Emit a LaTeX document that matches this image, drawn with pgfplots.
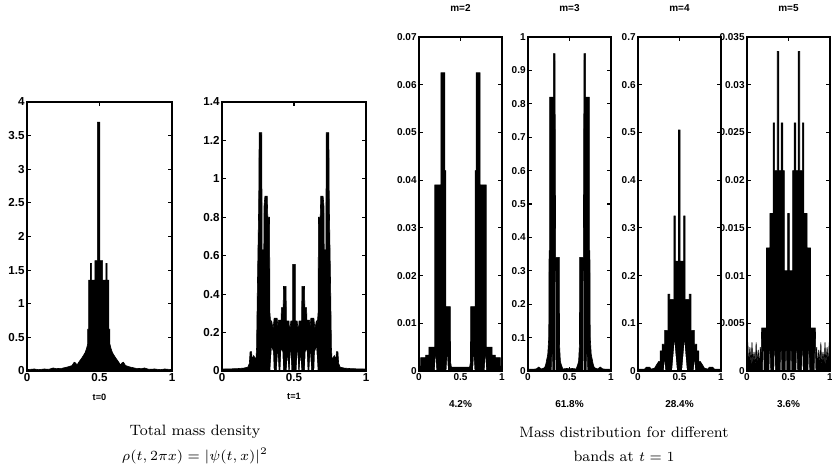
\documentclass[border=0pt]{standalone}
\usepackage{fontspec}
\usepackage{pgfplots}
\pgfplotsset{compat=1.18}
\newfontfamily\lab{Liberation Sans}
\pgfplotsset{
 panel/.style={
  scale only axis, axis on top, anchor=south west,
  scaled ticks=false,
  xmin=0, xmax=1, ymin=0,
  xtick={0,0.5,1}, xticklabels={0,0.5,1},
  tick align=inside, major tick length=2pt,
  axis line style={line width=0.9pt},
  every tick/.append style={line width=0.6pt, black},
  tick label style={font=\lab\bfseries\fontsize{5}{6}\selectfont},
  xticklabel style={inner sep=1pt},
  yticklabel style={inner sep=1pt},
  title style={font=\lab\bfseries\fontsize{5}{6}\selectfont, yshift=3pt},
  xlabel style={font=\lab\bfseries\fontsize{4.6}{5.5}\selectfont, yshift=-1.5pt},
 },
 right/.style={xlabel style={font=\lab\bfseries\fontsize{5}{6}\selectfont, yshift=-3.8pt}},
 env/.style={fill=black, draw=black, line width=0.3pt, mark=none},
 gap/.style={fill=white, draw=none, mark=none},
}
\begin{document}
\begin{tikzpicture}
\useasboundingbox (0,0) rectangle (416pt,237.5pt);
% ---------- t=0
\begin{axis}[panel, at={(13.5pt,52pt)}, width=72.5pt, height=134.5pt,
  ymax=4, ytick={0,0.5,...,4}, yticklabels={0,0.5,1,1.5,2,2.5,3,3.5,4},
  tick label style={font=\lab\bfseries\fontsize{5.8}{6.5}\selectfont},
  xlabel={t=0}]
\addplot[env] coordinates {(0,0)(0,0.02)(0.05,0.03)(0.08,0.02)(0.12,0.03)(0.15,0.025)(0.18,0.045)(0.2,0.035)(0.24,0.04)(0.28,0.06)(0.31,0.08)(0.325,0.13)(0.335,0.12)(0.345,0.09)(0.36,0.14)(0.38,0.2)(0.40,0.27)(0.41,0.33)(0.418,0.4)(0.418,0.62)(0.425,0.62)(0.425,1.35)(0.438,1.35)(0.438,1.6)(0.446,1.6)(0.446,1.35)(0.468,1.35)(0.468,1.64)(0.485,1.64)(0.485,3.7)(0.503,3.7)(0.503,1.64)(0.522,1.64)(0.522,1.35)(0.544,1.35)(0.544,1.6)(0.552,1.6)(0.552,1.35)(0.565,1.35)(0.565,0.62)(0.572,0.62)(0.572,0.4)(0.58,0.33)(0.59,0.27)(0.61,0.2)(0.63,0.14)(0.645,0.09)(0.655,0.12)(0.665,0.13)(0.68,0.08)(0.71,0.06)(0.75,0.04)(0.79,0.035)(0.81,0.045)(0.84,0.025)(0.88,0.03)(0.92,0.02)(0.95,0.03)(1,0.02)(1,0)} \closedcycle;
\end{axis}
% ---------- t=1
\begin{axis}[panel, at={(111pt,52pt)}, width=72pt, height=134.5pt,
  ymax=1.4, ytick={0,0.2,...,1.4}, yticklabels={0,0.2,0.4,0.6,0.8,1,1.2,1.4},
  tick label style={font=\lab\bfseries\fontsize{5.8}{6.5}\selectfont},
  xlabel={t=1}]
\addplot[env] coordinates {(0,0)(0,0.01)(0.1,0.012)(0.15,0.015)(0.18,0.02)(0.19,0.04)(0.195,0.1)(0.205,0.1)(0.21,0.06)(0.22,0.08)(0.228,0.07)(0.235,0.05)(0.24,0.12)(0.245,0.4)(0.25,0.64)(0.255,0.87)(0.258,1.24)(0.276,1.24)(0.279,0.63)(0.29,0.63)(0.292,0.86)(0.298,0.91)(0.314,0.91)(0.318,0.8)(0.33,0.8)(0.333,0.3)(0.338,0.25)(0.345,0.26)(0.355,0.22)(0.362,0.275)(0.383,0.275)(0.388,0.23)(0.392,0.265)(0.41,0.265)(0.413,0.33)(0.425,0.33)(0.427,0.44)(0.445,0.44)(0.447,0.26)(0.465,0.26)(0.47,0.2)(0.478,0.26)(0.49,0.26)(0.491,0.555)(0.509,0.555)(0.51,0.26)(0.522,0.26)(0.53,0.2)(0.535,0.26)(0.553,0.26)(0.555,0.44)(0.573,0.44)(0.575,0.33)(0.587,0.33)(0.59,0.265)(0.608,0.265)(0.612,0.23)(0.617,0.275)(0.638,0.275)(0.645,0.22)(0.655,0.26)(0.662,0.25)(0.667,0.3)(0.67,0.8)(0.682,0.8)(0.686,0.91)(0.702,0.91)(0.708,0.86)(0.71,0.63)(0.721,0.63)(0.724,1.24)(0.742,1.24)(0.745,0.87)(0.75,0.64)(0.755,0.4)(0.76,0.12)(0.765,0.05)(0.772,0.07)(0.78,0.08)(0.79,0.06)(0.795,0.1)(0.805,0.1)(0.81,0.04)(0.82,0.02)(0.85,0.015)(0.9,0.012)(1,0.01)(1,0)} \closedcycle;
\addplot[gap] coordinates {(0.335,0)(0.345,0.12)(0.355,0.1)(0.36,0)(0.38,0)(0.387,0.09)(0.394,0)(0.405,0)(0.412,0.11)(0.42,0.1)(0.425,0)(0.448,0)(0.455,0.07)(0.462,0)(0.47,0)(0.476,0.1)(0.483,0)(0.517,0)(0.524,0.1)(0.53,0)(0.538,0)(0.545,0.07)(0.552,0)(0.575,0)(0.58,0.1)(0.588,0.11)(0.595,0)(0.606,0)(0.613,0.09)(0.62,0)(0.64,0)(0.645,0.1)(0.655,0.12)(0.665,0)} \closedcycle;
\end{axis}
% ---------- m=2
\begin{axis}[panel, right, at={(209.5pt,52pt)}, width=41.5pt, height=167pt,
  ymax=0.07, ytick={0,0.01,...,0.07}, yticklabels={0,0.01,0.02,0.03,0.04,0.05,0.06,0.07},
  title={m=2}, xlabel={4.2\%}]
\addplot[env] coordinates {(0,0)(0,0.001)(0.02,0.001)(0.02,0.0028)(0.08,0.0028)(0.08,0.0033)(0.12,0.0033)(0.12,0.005)(0.19,0.005)(0.19,0.039)(0.263,0.039)(0.263,0.0625)(0.312,0.0625)(0.312,0.042)(0.324,0.042)(0.324,0.0135)(0.377,0.0135)(0.38,0.002)(0.39,0.0008)(0.61,0.0008)(0.62,0.002)(0.623,0.0135)(0.676,0.0135)(0.676,0.042)(0.688,0.042)(0.688,0.0625)(0.737,0.0625)(0.737,0.039)(0.81,0.039)(0.81,0.005)(0.88,0.005)(0.88,0.0033)(0.92,0.0033)(0.92,0.0028)(0.98,0.0028)(0.98,0.001)(1,0.001)(1,0)} \closedcycle;
\addplot[gap] coordinates {(0.19,0)(0.2,0.003)(0.21,0)(0.33,0)(0.34,0.003)(0.35,0)(0.65,0)(0.66,0.003)(0.67,0)(0.79,0)(0.8,0.003)(0.81,0)} \closedcycle;
\end{axis}
% ---------- m=3
\begin{axis}[panel, right, at={(264pt,52pt)}, width=41.5pt, height=167pt,
  ymax=1, ytick={0,0.1,...,1}, yticklabels={0,0.1,0.2,0.3,0.4,0.5,0.6,0.7,0.8,0.9,1},
  title={m=3}, xlabel={61.8\%}]
\addplot[env] coordinates {(0,0)(0,0.005)(0.1,0.006)(0.13,0.012)(0.16,0.006)(0.2,0.01)(0.214,0.02)(0.238,0.05)(0.25,0.1)(0.254,0.36)(0.262,0.36)(0.262,0.82)(0.306,0.82)(0.306,0.95)(0.325,0.95)(0.328,0.75)(0.333,0.34)(0.377,0.34)(0.38,0.08)(0.39,0.03)(0.4,0.02)(0.42,0.006)(0.48,0.008)(0.5,0.004)(0.52,0.008)(0.58,0.006)(0.6,0.02)(0.61,0.03)(0.62,0.08)(0.623,0.34)(0.667,0.34)(0.672,0.75)(0.675,0.95)(0.694,0.95)(0.694,0.82)(0.738,0.82)(0.738,0.36)(0.746,0.36)(0.75,0.1)(0.762,0.05)(0.786,0.02)(0.8,0.01)(0.84,0.006)(0.87,0.012)(0.9,0.006)(1,0.005)(1,0)} \closedcycle;
\addplot[gap] coordinates {(0.285,0)(0.29,0.05)(0.295,0)(0.328,0)(0.331,0.3)(0.334,0)(0.666,0)(0.669,0.3)(0.672,0)(0.705,0)(0.71,0.05)(0.715,0)} \closedcycle;
\end{axis}
% ---------- m=4
\begin{axis}[panel, right, at={(319pt,52pt)}, width=41.5pt, height=167pt,
  ymax=0.7, ytick={0,0.1,...,0.7}, yticklabels={0,0.1,0.2,0.3,0.4,0.5,0.6,0.7},
  title={m=4}, xlabel={28.4\%}]
\addplot[env] coordinates {(0,0)(0,0.004)(0.08,0.004)(0.1,0.008)(0.14,0.008)(0.16,0.004)(0.2,0.006)(0.22,0.012)(0.25,0.02)(0.268,0.02)(0.268,0.042)(0.29,0.042)(0.29,0.056)(0.322,0.056)(0.322,0.085)(0.362,0.085)(0.362,0.161)(0.382,0.161)(0.382,0.15)(0.433,0.15)(0.433,0.325)(0.449,0.325)(0.449,0.23)(0.488,0.23)(0.488,0.505)(0.508,0.505)(0.508,0.23)(0.551,0.23)(0.551,0.325)(0.567,0.325)(0.567,0.15)(0.618,0.15)(0.618,0.161)(0.638,0.161)(0.638,0.085)(0.678,0.085)(0.678,0.056)(0.71,0.056)(0.71,0.042)(0.732,0.042)(0.732,0.02)(0.75,0.02)(0.78,0.012)(0.8,0.006)(0.84,0.004)(0.86,0.008)(0.9,0.008)(0.92,0.004)(1,0.004)(1,0)} \closedcycle;
\addplot[gap] coordinates {(0.31,0)(0.32,0.02)(0.33,0)(0.41,0)(0.44,0.06)(0.47,0)(0.53,0)(0.56,0.06)(0.59,0)(0.67,0)(0.68,0.02)(0.69,0)} \closedcycle;
\end{axis}
% ---------- m=5
\begin{axis}[panel, right, at={(373.5pt,52pt)}, width=41.5pt, height=167pt,
  ymax=0.035, ytick={0,0.005,...,0.035}, yticklabels={0,0.005,0.01,0.015,0.02,0.025,0.03,0.035},
  title={m=5}, xlabel={3.6\%}]
\addplot[env] coordinates {(0,0)(0,0.0005)(0.01,0.003)(0.02,0.0005)(0.035,0.0025)(0.05,0.0005)(0.06,0.003)(0.07,0.0008)(0.085,0.002)(0.1,0.0005)(0.11,0.003)(0.12,0.0008)(0.135,0.0022)(0.15,0.0005)(0.16,0.0025)(0.17,0.001)(0.176,0.0045)(0.235,0.0045)(0.235,0.0129)(0.275,0.0129)(0.275,0.0165)(0.314,0.0165)(0.314,0.026)(0.333,0.026)(0.333,0.021)(0.365,0.021)(0.365,0.0335)(0.384,0.0335)(0.384,0.021)(0.412,0.021)(0.412,0.026)(0.431,0.026)(0.431,0.021)(0.45,0.021)(0.45,0.0105)(0.49,0.0105)(0.49,0.0165)(0.51,0.0165)(0.51,0.0105)(0.55,0.0105)(0.55,0.021)(0.569,0.021)(0.569,0.026)(0.588,0.026)(0.588,0.021)(0.616,0.021)(0.616,0.0335)(0.635,0.0335)(0.635,0.021)(0.667,0.021)(0.667,0.026)(0.686,0.026)(0.686,0.0165)(0.725,0.0165)(0.725,0.0129)(0.765,0.0129)(0.765,0.0045)(0.824,0.0045)(0.83,0.001)(0.84,0.0025)(0.85,0.0005)(0.865,0.0022)(0.88,0.0008)(0.89,0.003)(0.9,0.0005)(0.915,0.002)(0.93,0.0008)(0.94,0.003)(0.95,0.0005)(0.965,0.0025)(0.98,0.0005)(0.99,0.003)(1,0.0005)(1,0)} \closedcycle;
\addplot[gap] coordinates {(0.19,0)(0.196,0.0021)(0.202,0)(0.269,0)(0.275,0.0021)(0.281,0)(0.327,0)(0.333,0.0021)(0.339,0)(0.404,0)(0.41,0.0021)(0.416,0)(0.464,0)(0.47,0.0021)(0.476,0)(0.524,0)(0.53,0.0021)(0.536,0)(0.594,0)(0.6,0.0021)(0.606,0)(0.661,0)(0.667,0.0021)(0.673,0)(0.739,0)(0.745,0.0021)(0.751,0)(0.814,0)(0.82,0.0021)(0.826,0)} \closedcycle;
\end{axis}
% ---------- captions
\node[font=\fontsize{7.5}{9}\selectfont] at (97.5pt,21.5pt) {Total mass density};
\node[font=\fontsize{7.5}{9}\selectfont] at (97.5pt,9.5pt) {$\rho(t,2\pi x)=|\psi(t,x)|^2$};
\node[font=\fontsize{7.5}{9}\selectfont] at (312pt,21.5pt) {Mass distribution for different};
\node[font=\fontsize{7.5}{9}\selectfont] at (312pt,9.5pt) {bands at $t=1$};
\end{tikzpicture}
\end{document}
